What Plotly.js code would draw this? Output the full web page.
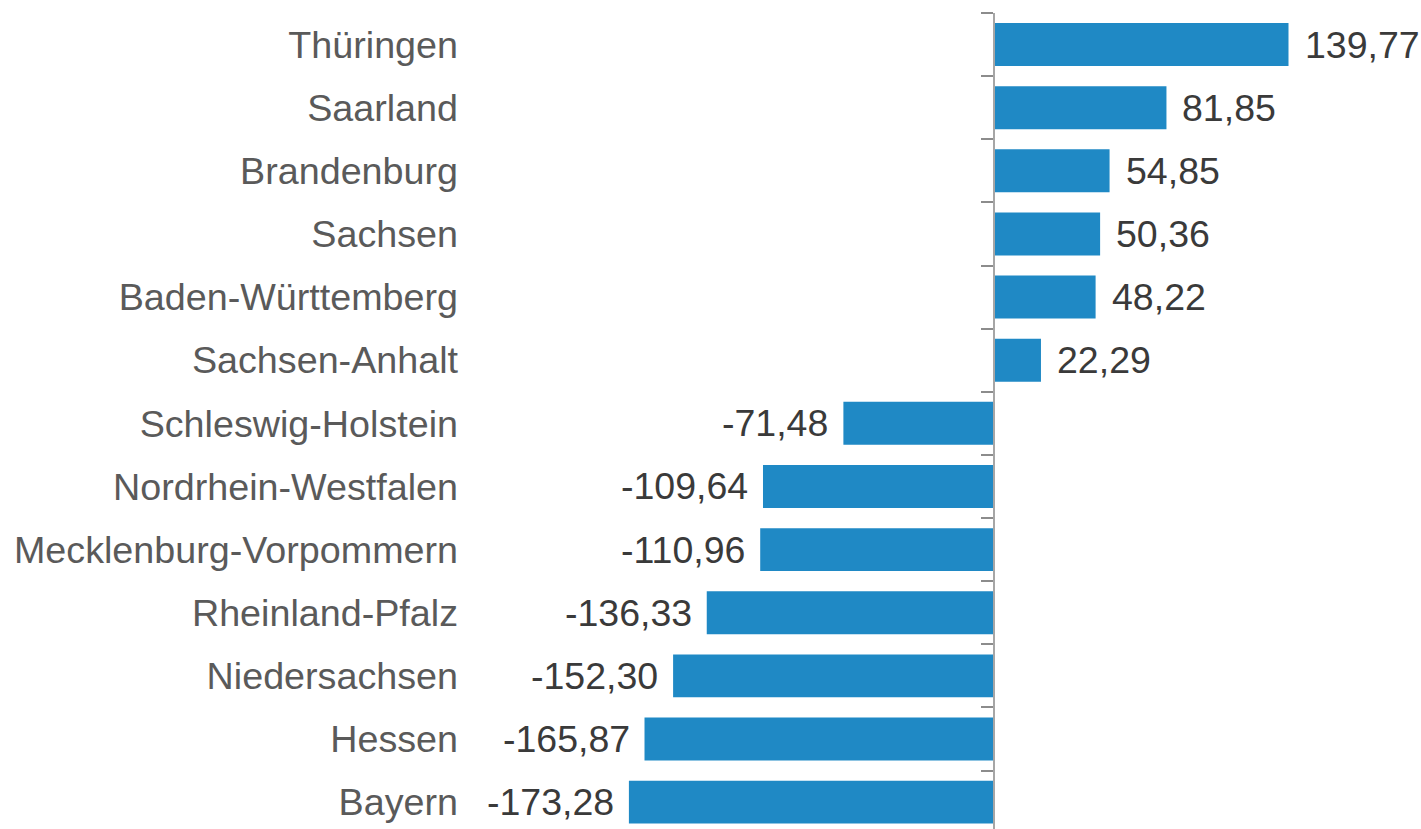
<!DOCTYPE html>
<html>
<head>
<meta charset="utf-8">
<script src="https://cdn.plot.ly/plotly-3.0.1.min.js"></script>
<style>html,body{margin:0;padding:0;background:#fff;}#chart{width:1421px;height:829px;}</style>
</head>
<body>
<div id="chart"></div>
<script>
var categories = ["Thüringen","Saarland","Brandenburg","Sachsen","Baden-Württemberg","Sachsen-Anhalt","Schleswig-Holstein","Nordrhein-Westfalen","Mecklenburg-Vorpommern","Rheinland-Pfalz","Niedersachsen","Hessen","Bayern"];
var values = [139.77, 81.85, 54.85, 50.36, 48.22, 22.29, -71.48, -109.64, -110.96, -136.33, -152.30, -165.87, -173.28];

function fmt(v){ return v.toFixed(2).replace('.', ','); }

var W = 1421, H = 829, L = 459, T = 13;
var pxPerUnit = 2.107, zeroPx = 994;
var xr = [-(zeroPx - L) / pxPerUnit, (W - zeroPx) / pxPerUnit];
var axisPos = (zeroPx - L) / (W - L);

var traces = [
  {type:'bar', orientation:'h', x: values, y: categories, marker:{color:'#1f89c5'}, hoverinfo:'x+y', cliponaxis:false},
  {type:'scatter', mode:'markers', x: values, y: categories, yaxis:'y2', marker:{opacity:0}, hoverinfo:'skip', showlegend:false}
];

var annotations = values.map(function(v, i){
  return {x: v, y: categories[i], xref:'x', yref:'y', text: fmt(v), showarrow:false,
    xanchor: v >= 0 ? 'left' : 'right', yanchor:'middle', xshift: v >= 0 ? 14 : -13,
    font:{family:'Liberation Sans, Arial, sans-serif', size:37.5, color:'#3a3a3a'}};
});

var layout = {
  width: W, height: H,
  margin:{l:L, r:0, t:T, b:0},
  paper_bgcolor:'#fff', plot_bgcolor:'#fff',
  showlegend:false,
  bargap:0.32,
  font:{family:'Liberation Sans, Arial, sans-serif'},
  xaxis:{range:xr, showgrid:false, zeroline:false, showticklabels:false, showline:false, ticks:''},
  yaxis:{type:'category', categoryarray:categories, categoryorder:'array', range:[12.426, -0.5],
    showgrid:false, zeroline:false, showline:false, ticks:'',
    tickfont:{family:'Liberation Sans, Arial, sans-serif', size:37.7, color:'#5a5a5a'}},
  yaxis2:{type:'category', categoryarray:categories, categoryorder:'array', range:[12.426, -0.5],
    overlaying:'y', anchor:'free', position:axisPos, side:'left',
    showticklabels:false, showgrid:false, zeroline:false,
    showline:true, linecolor:'#a6a6a6', linewidth:2,
    ticks:'outside', tickson:'boundaries', ticklen:12, tickcolor:'#8c8c8c', tickwidth:2},
  annotations: annotations
};

Plotly.newPlot('chart', traces, layout, {displayModeBar:false, staticPlot:true});
</script>
</body>
</html>
